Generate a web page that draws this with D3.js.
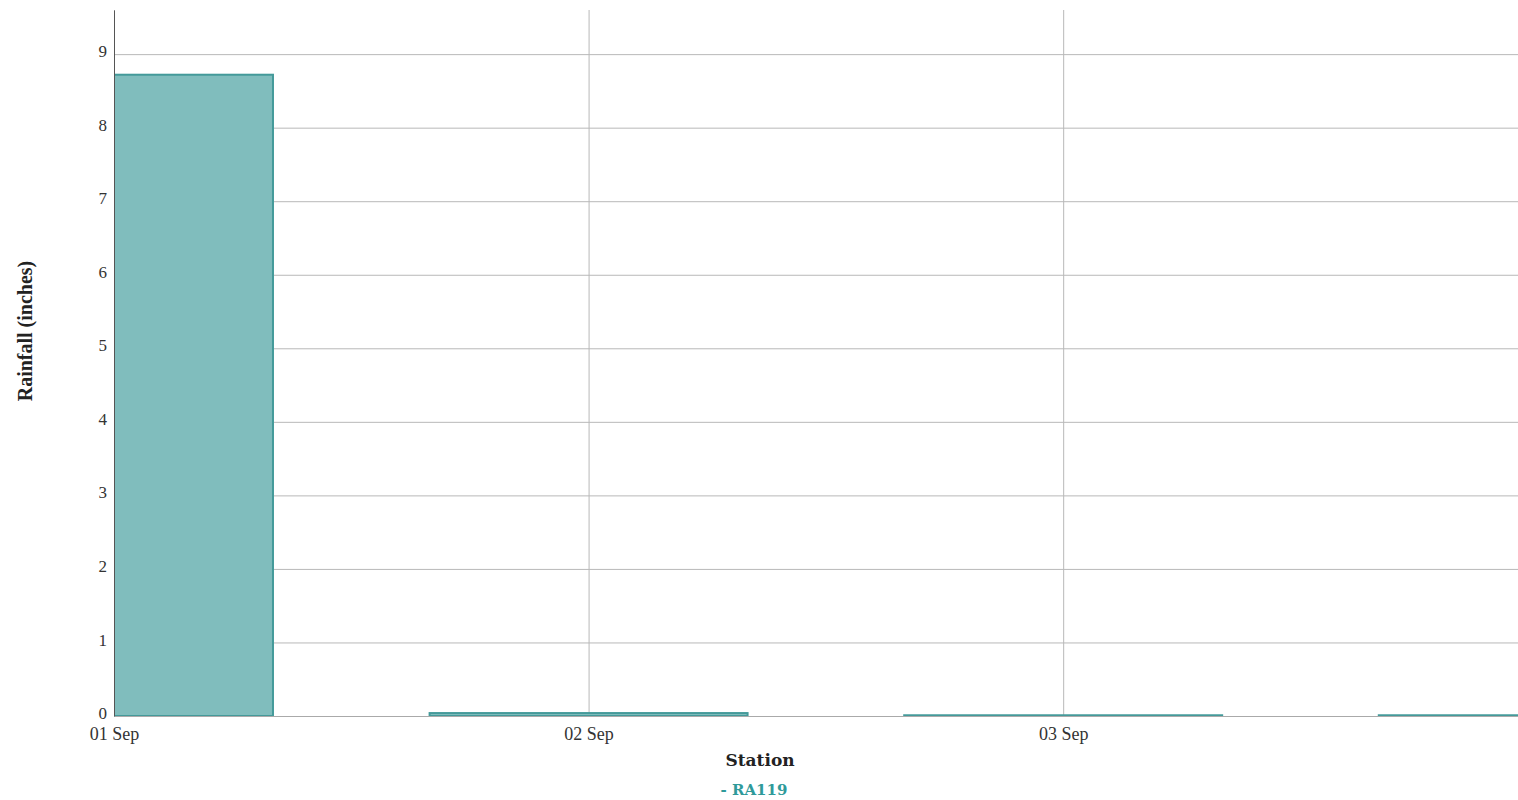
<!DOCTYPE html>
<html>
<head>
<meta charset="utf-8">
<script src="https://cdnjs.cloudflare.com/ajax/libs/d3/7.8.5/d3.min.js"></script>
<style>
    body { margin: 0; background: #fff; overflow: hidden; }
    .tick text { font-family: "Liberation Serif", serif; font-size: 17px; fill: #333; }
    .grid line { stroke: #b8b8b8; }
    .grid path { stroke: none; }
</style>
</head>
<body>
<div id="chart"></div>
<script>
// data
var dates = ["2019-09-01", "2019-09-02", "2019-09-03", "2019-09-04"];
var rainfall = [8.72, 0.04, 0.01, 0.01];
var yTicks = [0, 1, 2, 3, 4, 5, 6, 7, 8, 9];
var stationName = "RA119";

function rainfallChart()
{
    var margin = {top: 10, right: 0, bottom: 84, left: 114},
        width = 1518 - margin.left - margin.right,
        height = 800 - margin.top - margin.bottom;

    var parse = d3.utcParse("%Y-%m-%d");
    var data = dates.map(function(d, i) { return {date: parse(d), value: rainfall[i]}; });

    // x is a time scale, just under 3 days across the plot
    var x = d3.scaleUtc()
        .domain([parse(dates[0]), d3.utcHour.offset(parse(dates[0]), 71.6)])
        .range([0, width]);
    var y = d3.scaleLinear()
        .domain([0, 9.6])
        .range([height, 0]);

    var svg = d3.select("#chart").append("svg")
        .attr("width", 1518)
        .attr("height", 800);

    var g = svg.append("g")
        .attr("transform", "translate(" + margin.left + "," + margin.top + ")");

    svg.append("defs").append("clipPath").attr("id", "plotclip")
        .append("rect").attr("width", width).attr("height", height + 2).attr("y", -1);

    // grid lines
    g.append("g")
        .attr("class", "grid")
        .call(d3.axisLeft(y).tickValues(yTicks).tickSize(-width).tickFormat(""));

    g.append("g")
        .attr("class", "grid")
        .attr("transform", "translate(0," + height + ")")
        .call(d3.axisBottom(x).ticks(d3.utcDay.every(1)).tickSize(-height).tickFormat(""));

    // bars, 2/3 of a day wide, centred on each date
    var barW = (x(d3.utcDay.offset(parse(dates[0]), 1)) - x(parse(dates[0]))) * 0.67;

    g.append("g")
        .attr("clip-path", "url(#plotclip)")
        .selectAll("rect")
        .data(data)
        .enter().append("rect")
        .attr("x", function(d) { return x(d.date) - barW / 2; })
        .attr("y", function(d) { return y(d.value); })
        .attr("width", barW)
        .attr("height", function(d) { return height - y(d.value); })
        .attr("fill", "#80bdbd")
        .attr("stroke", "#449a9a")
        .attr("stroke-width", 2);

    // axes
    var yAxis = g.append("g")
        .call(d3.axisLeft(y).tickValues(yTicks).tickSize(0).tickPadding(7));
    yAxis.select(".domain").attr("stroke", "#555");
    yAxis.selectAll(".tick text").attr("dy", "0.15em");

    var xAxis = g.append("g")
        .attr("transform", "translate(0," + height + ")")
        .call(d3.axisBottom(x).ticks(d3.utcDay.every(1)).tickSize(0).tickPadding(11)
            .tickFormat(d3.utcFormat("%d %b")));
    xAxis.select(".domain").attr("stroke", "#aaa");
    xAxis.selectAll(".tick text").style("font-size", "18px");

    // labels
    svg.append("text")
        .attr("transform", "translate(32,331) rotate(-90)")
        .style("text-anchor", "middle")
        .style("font-family", "Liberation Serif, serif")
        .style("font-weight", "bold")
        .style("font-size", "20px")
        .attr("fill", "#222")
        .text("Rainfall (inches)");

    svg.append("text")
        .attr("x", 760)
        .attr("y", 766)
        .style("text-anchor", "middle")
        .style("font-family", "DejaVu Serif, serif")
        .style("font-weight", "bold")
        .style("font-size", "17px")
        .attr("fill", "#222")
        .text("Station");

    svg.append("text")
        .attr("x", 754)
        .attr("y", 795)
        .style("text-anchor", "middle")
        .style("font-family", "DejaVu Serif, serif")
        .style("font-weight", "bold")
        .style("font-size", "15px")
        .attr("fill", "#2f9a9a")
        .text("- " + stationName);
}

rainfallChart();
</script>
</body>
</html>
